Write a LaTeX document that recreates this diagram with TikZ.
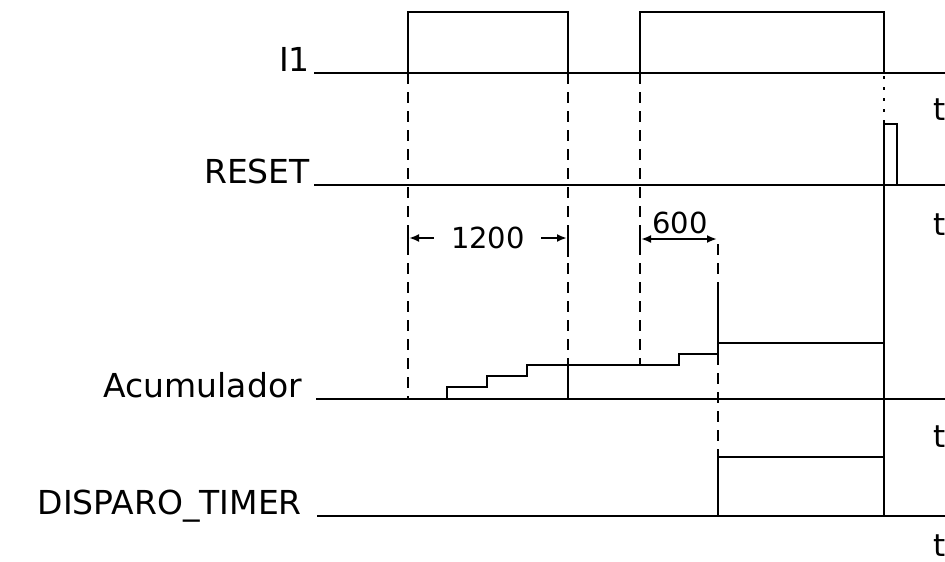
\documentclass[tikz,border=0pt]{standalone}
\usepackage{fontspec}
\setmainfont{DejaVu Sans}
\usetikzlibrary{arrows.meta}

\begin{document}
\begin{tikzpicture}[x=1pt, y=-1pt, >={Latex[length=10pt,width=8pt]},
  sig/.style={line width=2pt},
  guide/.style={line width=2pt, dash pattern=on 11pt off 8pt},
  dots/.style={line width=2pt, dash pattern=on 3pt off 8pt},
  lbl/.style={anchor=base east, inner sep=0pt, font=\fontsize{33}{36}\selectfont},
  tlbl/.style={anchor=base west, inner sep=0pt, font=\fontsize{31}{34}\selectfont},
  dim/.style={inner sep=0pt, font=\fontsize{29}{32}\selectfont}]
\useasboundingbox (0,0) rectangle (945,562);

%--- Signal names ---
\node[lbl] (lI) at (310,71) {I1};
\node[lbl] (lR) at (310,183) {RESET};
\node[lbl] (lA) at (302,397) {Acumulador};
\node[lbl] (lD) at (302,514) {DISPARO\_TIMER};

% time labels
\node[tlbl] (tI) at (933,120) {t};
\node[tlbl] (tR) at (933,235) {t};
\node[tlbl] (tA) at (933,447) {t};
\node[tlbl] (tD) at (933,556) {t};

%--- Base lines ---
\draw[sig] (314,73) -- (945,73);
\draw[sig] (314,185) -- (945,185);
\draw[sig] (316,399) -- (945,399);
\draw[sig] (317,516) -- (945,516);

%--- I1 pulses ---
\draw[sig] (408,73) -- (408,12) -- (568,12) -- (568,73);
\draw[sig] (640,73) -- (640,12) -- (884,12) -- (884,73);

%--- RESET pulse ---
\draw[sig] (884,516) -- (884,124) -- (897,124) -- (897,185);

%--- Acumulador staircase ---
\draw[sig] (447,399) -- (447,387) -- (487,387) -- (487,376) -- (527,376)
  -- (527,365) -- (679,365) -- (679,354) -- (718,354) -- (718,292);
\draw[sig] (568,399) -- (568,365);
\draw[sig] (718,343) -- (884,343);

%--- DISPARO_TIMER ---
\draw[sig] (718,516) -- (718,457) -- (884,457);

%--- Guide lines ---
\draw[guide] (408,73) -- (408,399);
\draw[guide] (568,73) -- (568,365);
\draw[guide] (640,73) -- (640,365);
\draw[guide] (718,244) -- (718,292);
\draw[guide] (718,354) -- (718,457);
\draw[dots] (884,76) -- (884,124);

%--- Time spans ---
\draw[sig] (408,229) -- (408,250);
\draw[sig] (568,229) -- (568,257);
\node[dim] (d1200) at (488,238) {1200};
\draw[sig,->] ([xshift=-17pt]d1200.west) -- (409,238);
\draw[sig,->] ([xshift=16pt]d1200.east) -- (567,238);

\draw[sig] (640,232) -- (640,246);
\node[dim, anchor=south] (d600) at (680,234) {600};
\draw[sig,<->] (641,239) -- (717,239);
\end{tikzpicture}
\end{document}
